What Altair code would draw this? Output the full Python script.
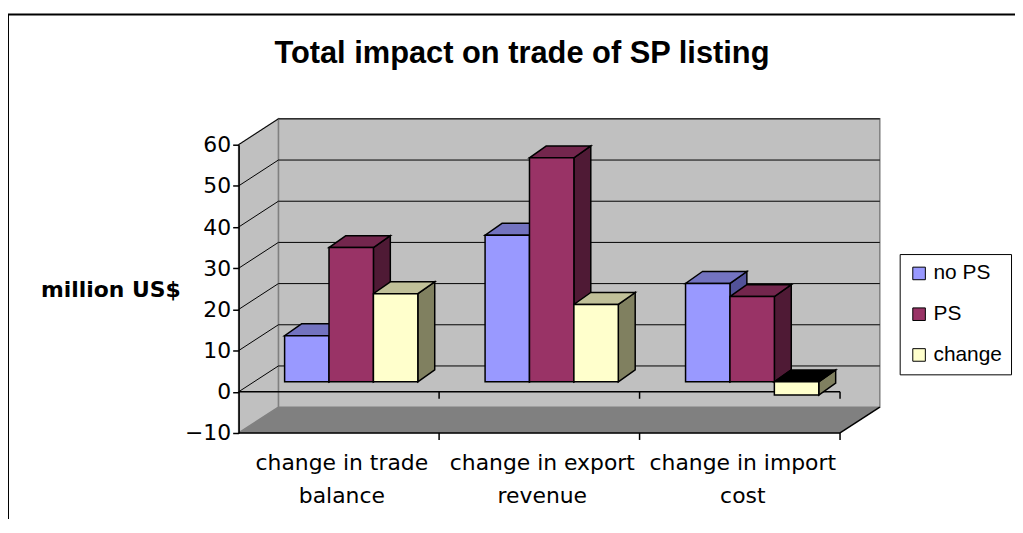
import altair as alt
import pandas as pd

# ---------------- data ----------------
categories = ["change in trade balance", "change in export revenue", "change in import cost"]
category_labels = ["change in trade\nbalance", "change in export\nrevenue", "change in import\ncost"]
series = ["no PS", "PS", "change"]
no_ps = [11.2, 35.6, 23.9]
ps = [32.6, 54.4, 20.7]
change = [21.4, 18.8, -3.2]
y_ticks = [-10, 0, 10, 20, 30, 40, 50, 60]

title_text = "Total impact on trade of SP listing"
y_title = "million US$"

# ---------------- styles / geometry ----------------
front_colors = ["#9999ff", "#993366", "#ffffcc"]
top_colors = ["#7373c0", "#73264d", "#c0c099"]
side_colors = ["#525299", "#4f1a35", "#808060"]
FONT = "Liberation Sans"
WFONT = "DejaVu Sans"

W, H = 605, 290
YMIN, YMAX = -10, 60
NCAT = len(categories)
px_x = W / NCAT
px_y = H / (YMAX - YMIN)

WDX, WDY = 40 / px_x, 26 / px_y      # wall depth
BFX, BFY = 15 / px_x, 10 / px_y      # bar front offset
BDX, BDY = 17 / px_x, 12 / px_y      # bar depth
GROUP_LEFT = 0.155
BAR_W = 0.2215
TICK = 7 / px_y

values = [no_ps, ps, change]
front_rows, top_rows, side_rows = [], [], []
for i, cat in enumerate(categories):
    for j, s in enumerate(series):
        v = values[j][i]
        x0 = i + GROUP_LEFT + BFX + j * BAR_W
        x1 = x0 + BAR_W
        lo = min(0, v) + BFY
        hi = max(0, v) + BFY
        bid = f"{i}-{j}"
        front_rows.append(dict(category=cat, series=s, value=v, x0=x0, x1=x1, lo=lo, hi=hi))
        tc = top_colors[j] if v >= 0 else "#000000"
        top_rows += [dict(id=bid, fc=tc, y=hi, xa=x0, xb=x1),
                     dict(id=bid, fc=tc, y=hi + BDY, xa=x0 + BDX, xb=x1 + BDX)]
        side_rows += [dict(id=bid, fc=side_colors[j], x=x1, ya=lo, yb=hi),
                      dict(id=bid, fc=side_colors[j], x=x1 + BDX, ya=lo + BDY, yb=hi + BDY)]

xs = alt.Scale(domain=[0, NCAT], nice=False, zero=False)
ys = alt.Scale(domain=[YMIN, YMAX], nice=False, zero=False)

Y_AXIS = alt.Axis(
    values=y_ticks, title=y_title, titleAngle=0, titleX=-129, titleY=146,
    titleAlign="center", titleBaseline="middle", titleFontSize=22, titleFontWeight="bold",
    titleFont=WFONT, titleColor="black", labelFontSize=22, labelFont=WFONT, labelColor="black",
    tickColor="black", domainColor="black", tickSize=6, labelPadding=2, grid=False,
    labelFlush=False, labelOverlap=False, domainWidth=1.5, tickWidth=1.5, zindex=1)


def X(f):
    return alt.X(f, type="quantitative", scale=xs, axis=None)


def Y(f):
    return alt.Y(f, type="quantitative", scale=ys, axis=Y_AXIS)


# frame around whole chart
frame = alt.Chart(pd.DataFrame([{"a": 1}])).mark_rect(
    fillOpacity=0, stroke="black", strokeWidth=2
).encode(x=alt.value(-232), y=alt.value(-131), x2=alt.value(900), y2=alt.value(500))

# back wall
wall = alt.Chart(pd.DataFrame([{"x": WDX, "x2": NCAT + WDX, "y": YMIN + WDY, "y2": YMAX + WDY}])).mark_rect(
    fill="#c0c0c0", stroke="#808080", strokeWidth=1.5
).encode(x=X("x"), x2="x2", y=Y("y"), y2="y2")

# side wall
side_wall = alt.Chart(pd.DataFrame([
    {"x": 0, "y": YMIN, "y2": YMAX},
    {"x": WDX, "y": YMIN + WDY, "y2": YMAX + WDY},
])).mark_area(orient="vertical", fill="#c0c0c0", stroke="#808080", strokeWidth=1.5).encode(
    x=X("x"), y=Y("y"), y2="y2")

# floor
floor = alt.Chart(pd.DataFrame([
    {"y": YMIN, "x": 0, "x2": NCAT},
    {"y": YMIN + WDY, "x": WDX, "x2": NCAT + WDX},
])).mark_area(orient="horizontal", fill="#808080").encode(
    y=Y("y"), x=X("x"), x2="x2")

grid_vals = [t for t in y_ticks if t > YMIN]
line_rows = []
for t in grid_vals:
    line_rows.append({"x": WDX, "x2": NCAT + WDX, "y": t + WDY, "y2": t + WDY, "w": 1})
    line_rows.append({"x": 0, "x2": WDX, "y": t, "y2": t + WDY, "w": 1})
line_rows += [
    {"x": 0, "x2": NCAT, "y": 0, "y2": 0, "w": 1.5},
    {"x": 0, "x2": NCAT, "y": YMIN, "y2": YMIN, "w": 1.5},
    {"x": NCAT, "x2": NCAT + WDX, "y": YMIN, "y2": YMIN + WDY, "w": 1.5},
]
for k in range(1, NCAT + 1):
    line_rows.append({"x": k, "x2": k, "y": 0, "y2": -TICK, "w": 1.5})
    line_rows.append({"x": k, "x2": k, "y": YMIN, "y2": YMIN - TICK, "w": 1.5})
lines = alt.Chart(pd.DataFrame(line_rows)).mark_rule(color="black").encode(
    x=X("x"), x2="x2", y=Y("y"), y2="y2",
    strokeWidth=alt.StrokeWidth("w:Q", scale=None))

sides = alt.Chart(pd.DataFrame(side_rows)).mark_area(
    orient="vertical", stroke="black", strokeWidth=1.5, strokeJoin="miter"
).encode(x=X("x"), y=Y("ya"), y2="yb", detail="id:N", fill=alt.Fill("fc:N", scale=None))

tops = alt.Chart(pd.DataFrame(top_rows)).mark_area(
    orient="horizontal", stroke="black", strokeWidth=1.5, strokeJoin="miter"
).encode(y=Y("y"), x=X("xa"), x2="xb", detail="id:N", fill=alt.Fill("fc:N", scale=None))

fronts = alt.Chart(pd.DataFrame(front_rows)).mark_rect(stroke="black", strokeWidth=1.5).encode(
    x=X("x0"), x2="x1", y=Y("lo"), y2="hi",
    fill=alt.Fill("series:N", scale=alt.Scale(domain=series, range=front_colors),
                  legend=alt.Legend(
                      title=None, orient="none", legendX=665, legendY=110,
                      symbolType="square", symbolSize=160, symbolStrokeColor="black",
                      symbolStrokeWidth=1, labelFontSize=21, labelFont=FONT, labelColor="black",
                      strokeColor="black", padding=9, rowPadding=19, fillColor="white",
                      labelOffset=4, labelLimit=300)),
)

labels = alt.Chart(pd.DataFrame({
    "x": [i + 0.5 for i in range(NCAT)], "y": [YMIN] * NCAT, "label": category_labels
})).mark_text(
    lineBreak="\n", fontSize=22, font=WFONT, baseline="top", dy=20, dx=3, lineHeight=33, color="black"
).encode(x=X("x"), y=alt.Y("y:Q", scale=ys, axis=Y_AXIS), text="label:N")

title = alt.Chart(pd.DataFrame([{"t": title_text}])).mark_text(
    fontSize=31, fontWeight="bold", font=FONT, baseline="alphabetic", align="center", color="black"
).encode(x=alt.value(285), y=alt.value(-82), text="t:N")

chart = alt.layer(
    frame, wall, side_wall, floor, lines, sides, tops, fronts, labels, title
).properties(
    width=W, height=H,
    padding={"left": 232, "top": 136, "right": 176, "bottom": 85},
    autosize=alt.AutoSizeParams(type="none"),
).configure_view(strokeWidth=0).configure(background="white")

chart.save("out.html", embed_options={"renderer": "svg", "actions": False})
